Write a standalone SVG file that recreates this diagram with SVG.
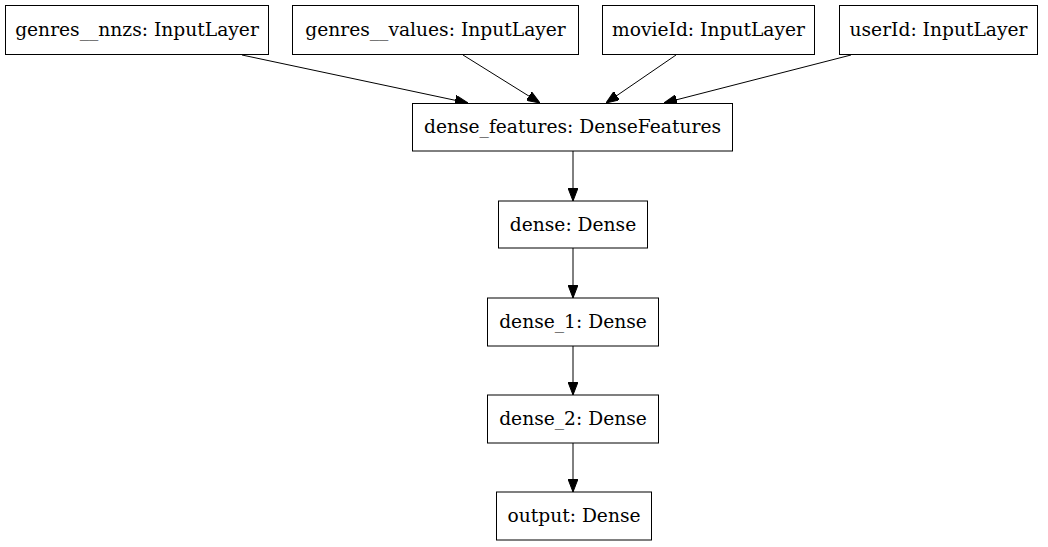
<svg xmlns="http://www.w3.org/2000/svg" width="1048" height="547" viewBox="0 0 1048 547">
<style>
.box{fill:#fff;stroke:#000;stroke-width:1}
.lbl{font-family:"DejaVu Serif","Liberation Serif",serif;font-size:18.67px;fill:#000;text-anchor:middle}
.edge{stroke:#000;stroke-width:1;fill:none;marker-end:url(#arr)}
</style>
<defs>
<marker id="arr" viewBox="0 0 13 10" refX="13" refY="5" markerWidth="13" markerHeight="10" markerUnits="userSpaceOnUse" orient="auto">
<path d="M0,0 L13,5 L0,10 z" fill="#000" stroke="#000" stroke-width="1"/>
</marker>
</defs>
<rect width="1048" height="547" fill="#fff"/>
<g id="connectors">
<line class="edge" x1="242" y1="55" x2="468" y2="103"/>
<line class="edge" x1="463" y1="55" x2="540" y2="103"/>
<line class="edge" x1="676" y1="55" x2="606" y2="103"/>
<line class="edge" x1="851" y1="55" x2="664" y2="103"/>
<line class="edge" x1="573" y1="151" x2="573" y2="201"/>
<line class="edge" x1="573" y1="248" x2="573" y2="298"/>
<line class="edge" x1="573" y1="346" x2="573" y2="395"/>
<line class="edge" x1="573" y1="443" x2="573" y2="492"/>
</g>
<g id="genres_nnzs">
<rect class="box" x="5.5" y="5.5" width="263" height="49"/>
<text class="lbl" x="137" y="36">genres__nnzs: InputLayer</text>
</g>
<g id="genres_values">
<rect class="box" x="292.5" y="5.5" width="286" height="49"/>
<text class="lbl" x="435.5" y="36">genres__values: InputLayer</text>
</g>
<g id="movieId">
<rect class="box" x="602.5" y="5.5" width="212" height="49"/>
<text class="lbl" x="708.5" y="36">movieId: InputLayer</text>
</g>
<g id="userId">
<rect class="box" x="839.5" y="5.5" width="198" height="49"/>
<text class="lbl" x="938.5" y="36">userId: InputLayer</text>
</g>
<g id="dense_features">
<rect class="box" x="412.5" y="103.5" width="320" height="47.5"/>
<text class="lbl" x="572.5" y="133">dense_features: DenseFeatures</text>
</g>
<g id="dense">
<rect class="box" x="498.5" y="201" width="149" height="47"/>
<text class="lbl" x="573" y="230.5">dense: Dense</text>
</g>
<g id="dense_1">
<rect class="box" x="487.5" y="298" width="171" height="48"/>
<text class="lbl" x="573" y="328">dense_1: Dense</text>
</g>
<g id="dense_2">
<rect class="box" x="487.5" y="395" width="171" height="48"/>
<text class="lbl" x="573" y="425">dense_2: Dense</text>
</g>
<g id="output">
<rect class="box" x="496.5" y="492" width="155" height="48"/>
<text class="lbl" x="574" y="522">output: Dense</text>
</g>
</svg>
